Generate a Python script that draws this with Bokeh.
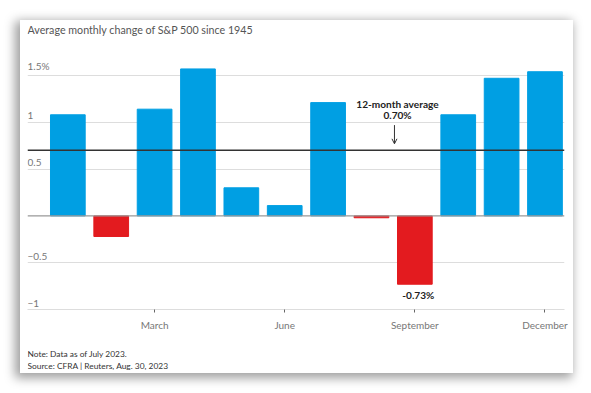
from bokeh.plotting import figure
from bokeh.layouts import column
from bokeh.models import (Range1d, FixedTicker, Span, Label, Arrow, OpenHead,
                          ColumnDataSource)
from bokeh.embed import file_html
from bokeh.resources import INLINE

months = ["January", "February", "March", "April", "May", "June", "July",
          "August", "September", "October", "November", "December"]
values = [1.08, -0.22, 1.14, 1.57, 0.30, 0.11, 1.21, -0.02, -0.73, 1.08, 1.47, 1.54]
avg_value = 0.70
y_ticks = [1.5, 1.0, 0.5, -0.5, -1.0]
y_tick_labels = ["1.5%", "1", "0.5", "\u22120.5", "\u22121"]
x_ticks_months = ["March", "June", "September", "December"]
title_text = "Average monthly change of S&P 500 since 1945"
note_text = "Note: Data as of July 2023."
source_text = "Source: CFRA | Reuters, Aug. 30, 2023"

BLUE = "#009FE3"
RED = "#E31B1F"
FONT = "Lato"
Y0, Y1 = -1.0, 1.66
X0, X1 = -0.93, 11.45
W = 553
TOP_H, MAIN_H, BOT_H = 40, 273, 40


def text_panel(height):
    f = figure(width=W, height=height, output_backend="svg", toolbar_location=None,
               x_range=Range1d(0, W), y_range=Range1d(0, height),
               x_axis_location=None, y_axis_location=None,
               min_border=0, min_border_left=0, min_border_right=0,
               min_border_top=0, min_border_bottom=0, outline_line_color=None,
               background_fill_color="white", border_fill_color="white")
    f.xgrid.visible = False
    f.ygrid.visible = False
    return f


# --- title panel
top = text_panel(TOP_H)
top.add_layout(Label(x=0, y=TOP_H - 9, x_units="screen", y_units="screen",
                     text=title_text, text_font=FONT, text_font_size="10.7px",
                     text_color="#555555", text_align="left", text_baseline="middle"))

# --- main chart
idx = list(range(len(months)))
colors = [BLUE if v >= 0 else RED for v in values]
src = ColumnDataSource(dict(x=idx, top=values, color=colors, month=months))

p = figure(width=W, height=MAIN_H, output_backend="svg", toolbar_location=None,
           x_range=Range1d(X0, X1), y_range=Range1d(Y0, Y1),
           y_axis_location=None,
           min_border_left=7, min_border_right=9, min_border_top=0,
           min_border_bottom=24, outline_line_color=None,
           background_fill_color="white", border_fill_color="white")

p.vbar(x="x", top="top", bottom=0, width=0.8, color="color", source=src)

p.ygrid.ticker = FixedTicker(ticks=y_ticks)
p.ygrid.grid_line_color = "#dddddd"
p.xgrid.visible = False

p.xaxis.ticker = FixedTicker(ticks=[months.index(m) for m in x_ticks_months])
p.xaxis.major_label_overrides = {months.index(m): m for m in x_ticks_months}
p.xaxis.axis_line_color = "#dddddd"
p.xaxis.major_tick_line_color = "#666666"
p.xaxis.major_tick_in = 0
p.xaxis.major_tick_out = 3
p.xaxis.minor_tick_line_color = None
p.xaxis.major_label_text_font = FONT
p.xaxis.major_label_text_font_size = "10px"
p.xaxis.major_label_text_color = "#777777"
p.xaxis.major_label_standoff = 6

p.add_layout(Span(location=0, dimension="width", line_color="#999999", line_width=1.2))
p.add_layout(Span(location=avg_value, dimension="width", line_color="#333333", line_width=1.5))

for t, lab in zip(y_ticks, y_tick_labels):
    p.add_layout(Label(x=X0, y=t, text=lab, y_offset=3,
                       text_font=FONT, text_font_size="10px", text_color="#777777",
                       text_baseline="bottom", text_align="left"))

p.add_layout(Label(x=7.6, y=1.2, text="12-month average", text_font=FONT,
                   text_font_size="10.1px", text_font_style="bold", text_color="#222222",
                   text_align="center", text_baseline="middle"))
p.add_layout(Label(x=7.6, y=1.08, text="%.2f%%" % avg_value, text_font=FONT,
                   text_font_size="10.1px", text_font_style="bold", text_color="#222222",
                   text_align="center", text_baseline="middle"))
p.add_layout(Arrow(x_start=7.53, y_start=0.97, x_end=7.53, y_end=0.77,
                   line_color="#333333", line_width=1,
                   end=OpenHead(size=5, line_color="#333333", line_width=1)))
sep = months.index("September")
p.add_layout(Label(x=sep + 0.08, y=values[sep] - 0.12, text="%.2f%%" % values[sep],
                   text_font=FONT, text_font_size="10.1px", text_font_style="bold",
                   text_color="#222222", text_align="center", text_baseline="middle"))

# --- notes panel
bot = text_panel(BOT_H)
bot.add_layout(Label(x=0, y=20, x_units="screen", y_units="screen", text=note_text,
                     text_font=FONT, text_font_size="8.4px", text_color="#333333",
                     text_align="left", text_baseline="middle"))
bot.add_layout(Label(x=0, y=8, x_units="screen", y_units="screen", text=source_text,
                     text_font=FONT, text_font_size="8.4px", text_color="#333333",
                     text_align="left", text_baseline="middle"))

card = column(top, p, bot, spacing=0, margin=(20, 0, 0, 20),
              styles={"background": "white",
                      "box-shadow": "-3px 3px 10px 2px rgba(0,0,0,0.38)"})
root = column(card)
open("out.html", "w").write(file_html(root, INLINE))
